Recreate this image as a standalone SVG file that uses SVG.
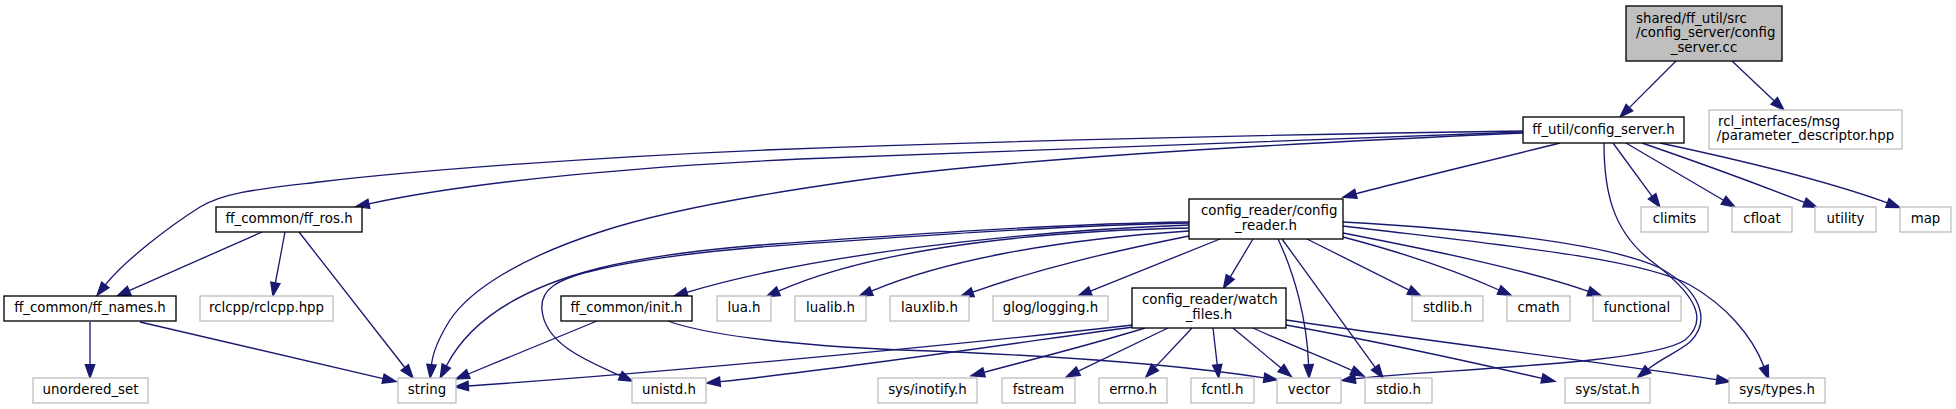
<svg xmlns="http://www.w3.org/2000/svg" width="1956" height="409" viewBox="0 0 1956 409">
<style>
text{font-family:"DejaVu Sans","Liberation Sans",sans-serif;font-size:13.33px;fill:#000}
.m{text-anchor:middle}
.s{text-anchor:start}
.doc{fill:#fff;stroke:#000;stroke-width:1.33}
.ext{fill:#fff;stroke:#bfbfbf;stroke-width:1.33}
.root{fill:#bfbfbf;stroke:#000;stroke-width:1.33}
.e{fill:none;stroke:#191970;stroke-width:1.33;marker-end:url(#arr)}
</style>
<defs>
<marker id="arr" markerUnits="userSpaceOnUse" markerWidth="16" markerHeight="12" refX="0" refY="6" orient="auto" overflow="visible">
<path d="M0,1.33 L13.33,6 L0,10.67 Z" fill="#191970" stroke="#191970" stroke-width="1.33"/>
</marker>
</defs>
<rect width="1956" height="409" fill="#fff"/>
<g id="connectors">
<path class="e" d="M1676,61 L1629.4,107.6"/>
<path class="e" d="M1732,61 L1774.3,100.9"/>
<path class="e" d="M1523,131 C1250,135 1000,141 765,150 C600,157 420,170 319,182 C260,189 225,192 200,207 C170,226 125,260 105.3,284.9"/>
<path class="e" d="M1523,132 C1250,140 1000,150 800,159 C650,166 480,180 368.9,203.8"/>
<path class="e" d="M1523,133 C1250,145 1000,160 860,180 C760,194 660,212 600,232 C520,258 470,290 450,320 C440,336 433,350 431.5,364.7"/>
<path class="e" d="M1560,143 C1480,163 1400,182 1355.9,193.8"/>
<path class="e" d="M1613,143 L1652.1,196.3"/>
<path class="e" d="M1626,143 L1723.5,200.3"/>
<path class="e" d="M1642,143 C1700,163 1760,185 1804.5,202.4"/>
<path class="e" d="M1660,143 C1740,160 1830,182 1887.4,202.9"/>
<path class="e" d="M1604,143 C1604,190 1612,230 1650,260 C1690,290 1712,318 1685,340 C1650,365 1420,370 1355.2,378.7"/>
<path class="e" d="M1343,222 C1450,228 1600,240 1660,268 C1700,290 1712,320 1690,342 C1678,352 1662,358 1648,369.2"/>
<path class="e" d="M1343,226 C1500,245 1640,258 1690,285 C1725,305 1752,335 1763.9,366.6"/>
<path class="e" d="M1343,233 C1430,250 1520,268 1588.5,291.3"/>
<path class="e" d="M1343,237 C1400,252 1450,268 1499.1,290"/>
<path class="e" d="M1307,239 L1409.1,290.1"/>
<path class="e" d="M1253,239 L1230.3,276.9"/>
<path class="e" d="M1278,239 C1295,275 1307,320 1308.6,364.7"/>
<path class="e" d="M1282,239 L1375.2,367.3"/>
<path class="e" d="M1220,239 L1090.4,291.1"/>
<path class="e" d="M1189,236 C1110,252 1040,268 972.7,292.2"/>
<path class="e" d="M1189,231 C1050,240 940,262 871.4,291.1"/>
<path class="e" d="M1189,228 C1000,232 860,255 778.4,291.2"/>
<path class="e" d="M1189,225 C1000,232 800,258 686.8,292.4"/>
<path class="e" d="M1189,222 C1050,224 900,235 760,245 C700,250 640,258 600,268 C520,288 470,320 446.3,366"/>
<path class="e" d="M1189,223 C1050,226 900,237 760,247 C700,252 640,260 600,269 C555,279 540,290 542,310 C545,345 590,362 620.3,375.7"/>
<path class="e" d="M1133,325 C1000,340 700,370 468.3,386"/>
<path class="e" d="M1133,327 C1050,338 850,368 720,381.7"/>
<path class="e" d="M1145,328 C1090,345 1030,360 984,372.3"/>
<path class="e" d="M1168,328 L1078.3,371.1"/>
<path class="e" d="M1192,328 L1155,367.4"/>
<path class="e" d="M1213,328 L1217.2,364.7"/>
<path class="e" d="M1233,328 L1281,368"/>
<path class="e" d="M1253,328 C1290,345 1325,358 1352,370.5"/>
<path class="e" d="M1286,325 C1380,342 1480,364 1542,378.4"/>
<path class="e" d="M1286,320 C1420,340 1600,362 1716.8,379.6"/>
<path class="e" d="M668,321 C700,333 780,345 900,350 C1050,355 1180,365 1264.1,377.8"/>
<path class="e" d="M597,321 L468.3,374"/>
<path class="e" d="M140,322 L383.1,378.6"/>
<path class="e" d="M90,322 L90,364.7"/>
<path class="e" d="M262,232 L129.2,290.7"/>
<path class="e" d="M285,232 L275.4,282.9"/>
<path class="e" d="M299,232 L404.8,367.5"/>
</g>
<g id="n_root"><rect class="root" x="1626" y="6" width="156" height="55"/><text class="s" x="1636" y="22.5">shared/ff_util/src</text><text class="s" x="1636" y="37">/config_server/config</text><text class="m" x="1704" y="51.5">_server.cc</text></g>
<g id="n_config_server"><rect class="doc" x="1523" y="117" width="161" height="26"/><text class="m" x="1603.5" y="133.5">ff_util/config_server.h</text></g>
<g id="n_rcl"><rect class="ext" x="1709" y="110" width="193" height="39"/><text class="s" x="1718" y="125.5">rcl_interfaces/msg</text><text class="m" x="1805.5" y="140">/parameter_descriptor.hpp</text></g>
<g id="n_ff_ros"><rect class="doc" x="216" y="207" width="146" height="25"/><text class="m" x="289" y="223">ff_common/ff_ros.h</text></g>
<g id="n_ff_names"><rect class="doc" x="4" y="296" width="172" height="25"/><text class="m" x="90" y="312">ff_common/ff_names.h</text></g>
<g id="n_rclcpp"><rect class="ext" x="200" y="296" width="133" height="25"/><text class="m" x="266.5" y="312">rclcpp/rclcpp.hpp</text></g>
<g id="n_init"><rect class="doc" x="561" y="296" width="131" height="25"/><text class="m" x="626.5" y="312">ff_common/init.h</text></g>
<g id="n_lua"><rect class="ext" x="717" y="296" width="54" height="25"/><text class="m" x="744" y="312">lua.h</text></g>
<g id="n_lualib"><rect class="ext" x="795" y="296" width="71" height="25"/><text class="m" x="830.5" y="312">lualib.h</text></g>
<g id="n_lauxlib"><rect class="ext" x="890" y="296" width="79" height="25"/><text class="m" x="929.5" y="312">lauxlib.h</text></g>
<g id="n_glog"><rect class="ext" x="993" y="296" width="115" height="25"/><text class="m" x="1050.5" y="312">glog/logging.h</text></g>
<g id="n_config_reader"><rect class="doc" x="1189" y="199" width="154" height="40"/><text class="s" x="1201" y="215">config_reader/config</text><text class="m" x="1266" y="229.7">_reader.h</text></g>
<g id="n_watch_files"><rect class="doc" x="1132" y="288" width="154" height="40"/><text class="s" x="1142" y="304">config_reader/watch</text><text class="m" x="1209" y="318.7">_files.h</text></g>
<g id="n_stdlib"><rect class="ext" x="1412" y="296" width="71" height="25"/><text class="m" x="1447.5" y="312">stdlib.h</text></g>
<g id="n_cmath"><rect class="ext" x="1507" y="296" width="63" height="25"/><text class="m" x="1538.5" y="312">cmath</text></g>
<g id="n_functional"><rect class="ext" x="1593" y="296" width="88" height="25"/><text class="m" x="1637" y="312">functional</text></g>
<g id="n_climits"><rect class="ext" x="1641" y="207" width="67" height="25"/><text class="m" x="1674.5" y="223">climits</text></g>
<g id="n_cfloat"><rect class="ext" x="1732" y="207" width="60" height="25"/><text class="m" x="1762" y="223">cfloat</text></g>
<g id="n_utility"><rect class="ext" x="1815" y="207" width="61" height="25"/><text class="m" x="1845.5" y="223">utility</text></g>
<g id="n_map"><rect class="ext" x="1900" y="207" width="51" height="25"/><text class="m" x="1925.5" y="223">map</text></g>
<g id="n_unordered_set"><rect class="ext" x="33" y="378" width="115" height="25"/><text class="m" x="90.5" y="394">unordered_set</text></g>
<g id="n_string"><rect class="ext" x="398" y="378" width="58" height="25"/><text class="m" x="427" y="394">string</text></g>
<g id="n_unistd"><rect class="ext" x="632" y="378" width="74" height="25"/><text class="m" x="669" y="394">unistd.h</text></g>
<g id="n_inotify"><rect class="ext" x="878" y="378" width="99" height="25"/><text class="m" x="927.5" y="394">sys/inotify.h</text></g>
<g id="n_fstream"><rect class="ext" x="1002" y="378" width="73" height="25"/><text class="m" x="1038.5" y="394">fstream</text></g>
<g id="n_errno"><rect class="ext" x="1099" y="378" width="68" height="25"/><text class="m" x="1133" y="394">errno.h</text></g>
<g id="n_fcntl"><rect class="ext" x="1191" y="378" width="63" height="25"/><text class="m" x="1222.5" y="394">fcntl.h</text></g>
<g id="n_vector"><rect class="ext" x="1277" y="378" width="64" height="25"/><text class="m" x="1309" y="394">vector</text></g>
<g id="n_stdio"><rect class="ext" x="1365" y="378" width="67" height="25"/><text class="m" x="1398.5" y="394">stdio.h</text></g>
<g id="n_sys_stat"><rect class="ext" x="1565" y="378" width="85" height="25"/><text class="m" x="1607.5" y="394">sys/stat.h</text></g>
<g id="n_sys_types"><rect class="ext" x="1729" y="378" width="96" height="25"/><text class="m" x="1777" y="394">sys/types.h</text></g>
</svg>
